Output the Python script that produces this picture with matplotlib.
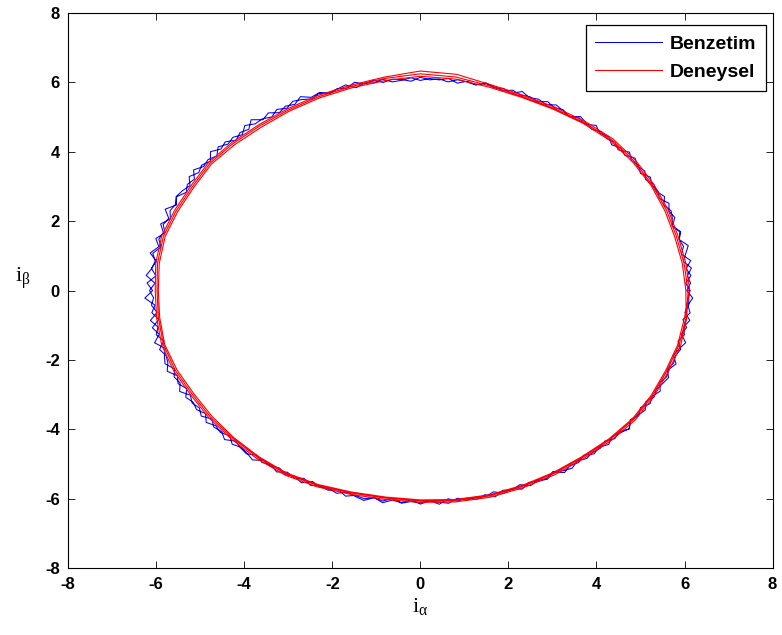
import numpy as np
import matplotlib.pyplot as plt

# stator akim yorungesi, yaricap degerleri (A), aci esit adimli
# benzetim: 2 tur, 2 derece adim
benzetim_r = [
    6.12, 6.03, 6.16, 6.07, 6.20, 6.02, 6.11, 6.06, 6.15, 6.01, 6.09, 6.14,
    6.05, 6.17, 6.08, 6.12, 6.03, 6.15, 6.09, 6.19, 6.06, 6.13, 6.04, 6.16,
    6.09, 6.21, 6.07, 6.14, 6.05, 6.11, 6.17, 6.06, 6.13, 6.08, 6.18, 6.04,
    6.12, 6.07, 6.15, 6.05, 6.10, 6.13, 6.04, 6.11, 6.07, 6.14, 6.03, 6.09,
    6.12, 6.05, 6.15, 6.08, 6.18, 6.06, 6.11, 6.03, 6.14, 6.09, 6.21, 6.07,
    6.13, 6.04, 6.17, 6.08, 6.24, 6.06, 6.12, 6.02, 6.16, 6.09, 6.22, 6.05,
    6.14, 6.07, 6.19, 6.04, 6.12, 6.17, 6.06, 6.25, 6.08, 6.14, 6.03, 6.19,
    6.07, 6.23, 6.05, 6.14, 6.02, 6.21, 6.08, 6.26, 6.04, 6.13, 6.00, 6.18,
    6.06, 6.22, 6.03, 6.11, 6.17, 6.02, 6.12, 6.07, 6.19, 6.03, 6.11, 6.05,
    6.15, 6.01, 6.12, 6.07, 6.18, 6.03, 6.10, 6.14, 6.02, 6.12, 6.06, 6.16,
    6.04, 6.11, 6.02, 6.14, 6.07, 6.12, 6.03, 6.16, 6.08, 6.13, 6.05, 6.17,
    6.07, 6.12, 6.03, 6.15, 6.06, 6.11, 6.16, 6.04, 6.13, 6.08, 6.12, 6.03,
    6.14, 6.07, 6.17, 6.05, 6.11, 6.15, 6.04, 6.18, 6.08, 6.12, 6.02, 6.14,
    6.07, 6.16, 6.05, 6.12, 6.19, 6.06, 6.13, 6.03, 6.15, 6.09, 6.17, 6.05,
    6.12, 6.08, 6.18, 6.04, 6.11, 6.21, 6.06, 6.14, 6.02, 6.16, 6.09, 6.19,
    # ikinci tur
    6.05, 6.14, 6.08, 6.19, 6.03, 6.12, 6.22, 6.06, 6.13, 6.02, 6.15, 6.09,
    6.18, 6.04, 6.11, 6.07, 6.16, 6.03, 6.12, 6.08, 6.20, 6.05, 6.14, 6.09,
    6.15, 6.06, 6.12, 6.19, 6.04, 6.13, 6.08, 6.16, 6.05, 6.11, 6.07, 6.14,
    6.05, 6.10, 6.16, 6.06, 6.12, 6.03, 6.14, 6.08, 6.11, 6.05, 6.13, 6.07,
    6.04, 6.14, 6.07, 6.11, 6.02, 6.16, 6.10, 6.06, 6.13, 6.04, 6.12, 6.17,
    6.06, 6.15, 6.03, 6.11, 6.09, 6.20, 6.04, 6.13, 6.07, 6.18, 6.03, 6.12,
    6.08, 6.21, 6.05, 6.11, 6.02, 6.16, 6.09, 6.13, 6.04, 6.20, 6.07, 6.12,
    6.02, 6.17, 6.08, 6.13, 6.24, 6.03, 6.15, 6.06, 6.12, 6.01, 6.19, 6.05,
    6.13, 6.00, 6.16, 6.07, 6.10, 6.20, 6.04, 6.12, 6.01, 6.15, 6.08, 6.13,
    6.03, 6.17, 6.06, 6.11, 6.02, 6.15, 6.08, 6.12, 6.19, 6.05, 6.10, 6.03,
    6.13, 6.06, 6.16, 6.02, 6.10, 6.07, 6.14, 6.04, 6.11, 6.18, 6.06, 6.12,
    6.02, 6.14, 6.08, 6.11, 6.05, 6.17, 6.03, 6.12, 6.07, 6.15, 6.06, 6.18,
    6.05, 6.11, 6.03, 6.15, 6.09, 6.13, 6.02, 6.12, 6.17, 6.06, 6.14, 6.08,
    6.11, 6.03, 6.14, 6.08, 6.20, 6.05, 6.11, 6.16, 6.04, 6.13, 6.07, 6.12,
    6.17, 6.05, 6.12, 6.09, 6.15, 6.03, 6.13, 6.07, 6.18, 6.04, 6.11, 6.10,
]

# deneysel: 3 tur, 7.5 derece adim
deneysel_r = [
    6.08, 6.04, 6.02, 6.05, 6.08, 6.12, 6.14, 6.10, 6.06, 6.05, 6.10, 6.20,
    6.24, 6.16, 6.08, 6.04, 6.00, 5.98, 6.00, 6.02, 5.98, 6.00, 6.04, 6.02,
    5.98, 6.00, 6.04, 6.02, 5.98, 6.00, 6.02, 6.06, 6.10, 6.08, 6.04, 6.03,
    6.06, 6.10, 6.12, 6.10, 6.08, 6.06, 6.08, 6.10, 6.08, 6.06, 6.08, 6.09,
    6.03, 6.00, 5.98, 6.01, 6.05, 6.08, 6.10, 6.07, 6.03, 6.02, 6.06, 6.14,
    6.17, 6.10, 6.04, 6.00, 5.96, 5.93, 5.95, 5.98, 5.94, 5.96, 6.00, 5.98,
    5.95, 5.97, 6.01, 5.98, 5.94, 5.96, 5.99, 6.03, 6.07, 6.05, 6.01, 6.00,
    6.03, 6.07, 6.09, 6.07, 6.05, 6.03, 6.05, 6.07, 6.05, 6.03, 6.05, 6.05,
    6.12, 6.08, 6.06, 6.09, 6.12, 6.16, 6.18, 6.14, 6.10, 6.09, 6.14, 6.28,
    6.32, 6.20, 6.12, 6.08, 6.04, 6.02, 6.04, 6.06, 6.02, 6.04, 6.08, 6.06,
    6.02, 6.04, 6.08, 6.06, 6.02, 6.04, 6.06, 6.10, 6.14, 6.12, 6.08, 6.07,
    6.10, 6.14, 6.16, 6.14, 6.12, 6.10, 6.12, 6.14, 6.12, 6.10, 6.12, 6.10,
]

ticks = [-8, -6, -4, -2, 0, 2, 4, 6, 8]


def yorunge(r, adim_derece):
    # yaricap listesini alfa-beta duzlemine cevirir, sonunda halkayi kapatir
    r = np.array(r + r[:1])
    aci = np.deg2rad(np.arange(len(r)) * adim_derece)
    return r * np.cos(aci), r * np.sin(aci)


plt.rcParams['font.family'] = ['Liberation Sans', 'DejaVu Sans']
plt.rcParams['axes.unicode_minus'] = False
plt.rcParams['mathtext.fontset'] = 'custom'
plt.rcParams['mathtext.rm'] = 'Liberation Serif'
plt.rcParams['mathtext.it'] = 'Liberation Serif:italic'

fig = plt.figure(figsize=(7.82, 6.35), dpi=100)
ax = fig.add_axes([0.087, 0.105, 0.901, 0.875])

xb, yb = yorunge(benzetim_r, 2)
xd, yd = yorunge(deneysel_r, 7.5)
ax.plot(xb, yb, color='blue', lw=0.75, label='Benzetim')
ax.plot(xd, yd, color='red', lw=0.8, label='Deneysel')

ax.set_xlim(-8, 8)
ax.set_ylim(-8, 8)
ax.set_xticks(ticks)
ax.set_yticks(ticks)
ax.tick_params(direction='in', top=True, right=True, length=5, width=0.6,
               labelsize=12, pad=6)
for lab in ax.get_xticklabels() + ax.get_yticklabels():
    lab.set_fontweight('bold')
for s in ax.spines.values():
    s.set_linewidth(0.8)

ax.set_xlabel(r'$\mathrm{i}_{\mathrm{α}}$', fontsize=16, labelpad=3)
ax.set_ylabel(r'$\mathrm{i}_{\mathrm{β}}$', fontsize=16, rotation=0, labelpad=16)

leg = ax.legend(loc='upper right', bbox_to_anchor=(0.990, 0.977),
                borderaxespad=0, fancybox=False, framealpha=1,
                edgecolor='black', prop={'weight': 'bold', 'size': 14},
                handlelength=3.4, labelspacing=0.55, handletextpad=0.4,
                borderpad=0.5)
leg.get_frame().set_linewidth(0.9)

plt.savefig('out.png', dpi=100)
